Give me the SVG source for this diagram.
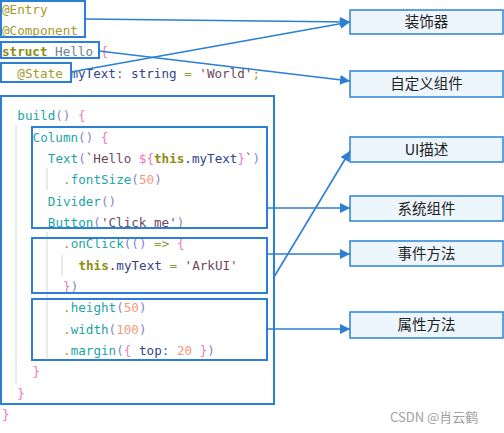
<svg xmlns="http://www.w3.org/2000/svg" width="504" height="433" viewBox="0 0 504 433">
<style>
.code{font-family:"DejaVu Sans Mono","Liberation Mono",monospace;font-size:12.6px;white-space:pre}
.d{fill:#a79a2d}.k{fill:#8f8c12;font-weight:bold}.h{fill:#6a8593}.b{fill:#e879c4}.v{fill:#34438a}
.s{fill:#6e4760}.f{fill:#1ea3a6}.p{fill:#8a84c8}.n{fill:#f39a7c}.o{fill:#8c9a3c}.c{fill:#5a6080}
.box{fill:none;stroke:#2b7fd4;stroke-width:2}
.guide{stroke:#e2e2e2;stroke-width:1.5}
.lbl rect{fill:#eef6fd;stroke:#2a83d5;stroke-width:1.5}
.lbl text{font-family:"Noto Sans CJK SC","Noto Sans",sans-serif;font-size:14.5px;fill:#222;text-anchor:middle}
.con{stroke:#2b7fd4;stroke-width:1.6;fill:none;marker-end:url(#ah)}
</style>
<defs>
<marker id="ah" markerUnits="userSpaceOnUse" markerWidth="10" markerHeight="10" refX="10" refY="5" orient="auto">
<path d="M0,0 L10,5 L0,10 z" fill="#2b7fd4"/>
</marker>
</defs>
<rect width="504" height="433" fill="#fff"/>
<g id="guides">
<line class="guide" x1="16" y1="125" x2="16" y2="383"/>
<line class="guide" x1="47" y1="168" x2="47" y2="190"/>
<line class="guide" x1="47" y1="232" x2="47" y2="358"/>
<line class="guide" x1="62" y1="255" x2="62" y2="276"/>
</g>
<g id="code" class="code">
<text x="2" y="13.5" class="d">@Entry</text>
<text x="2" y="34.8" class="d">@Component</text>
<text x="2" y="56.2"><tspan class="k">struct</tspan> <tspan class="h">Hello</tspan> <tspan class="b">{</tspan></text>
<text x="17.3" y="77.5"><tspan class="d">@State</tspan> <tspan class="v">myText</tspan><tspan class="c">:</tspan> <tspan class="v">string</tspan> <tspan class="o">=</tspan> <tspan class="s">'World'</tspan><tspan class="d">;</tspan></text>
<text x="17.3" y="120.2"><tspan class="f">build</tspan><tspan class="p">()</tspan> <tspan class="b">{</tspan></text>
<text x="32.6" y="141.5"><tspan class="f">Column</tspan><tspan class="p">()</tspan> <tspan class="b">{</tspan></text>
<text x="47.8" y="162.8"><tspan class="f">Text</tspan><tspan class="p">(</tspan><tspan class="s">`Hello </tspan><tspan class="b">${</tspan><tspan class="k">this</tspan><tspan class="v">.myText</tspan><tspan class="b">}</tspan><tspan class="s">`</tspan><tspan class="p">)</tspan></text>
<text x="63.1" y="184.2"><tspan class="d">.</tspan><tspan class="f">fontSize</tspan><tspan class="p">(</tspan><tspan class="n">50</tspan><tspan class="p">)</tspan></text>
<text x="47.8" y="205.5"><tspan class="f">Divider</tspan><tspan class="p">()</tspan></text>
<text x="47.8" y="226.8"><tspan class="f">Button</tspan><tspan class="p">(</tspan><tspan class="s">'Click me'</tspan><tspan class="p">)</tspan></text>
<text x="63.1" y="248.2"><tspan class="d">.</tspan><tspan class="f">onClick</tspan><tspan class="p">(()</tspan> <tspan class="o">=&gt;</tspan> <tspan class="b">{</tspan></text>
<text x="78.4" y="269.5"><tspan class="k">this</tspan><tspan class="v">.myText</tspan> <tspan class="o">=</tspan> <tspan class="s">'ArkUI'</tspan></text>
<text x="63.1" y="290.8"><tspan class="b">}</tspan><tspan class="p">)</tspan></text>
<text x="63.1" y="312.2"><tspan class="d">.</tspan><tspan class="f">height</tspan><tspan class="p">(</tspan><tspan class="n">50</tspan><tspan class="p">)</tspan></text>
<text x="63.1" y="333.5"><tspan class="d">.</tspan><tspan class="f">width</tspan><tspan class="p">(</tspan><tspan class="n">100</tspan><tspan class="p">)</tspan></text>
<text x="63.1" y="354.8"><tspan class="d">.</tspan><tspan class="f">margin</tspan><tspan class="p">(</tspan><tspan class="b">{</tspan> <tspan class="v">top</tspan><tspan class="c">:</tspan> <tspan class="n">20</tspan> <tspan class="b">}</tspan><tspan class="p">)</tspan></text>
<text x="32.6" y="376.2" class="b">}</text>
<text x="17.3" y="397.5" class="b">}</text>
<text x="2" y="418.8" class="b">}</text>
</g>
<g id="code-boxes">
<rect id="box-decorators" class="box" x="1" y="1" width="84" height="36"/>
<rect id="box-struct" class="box" x="1" y="42" width="98" height="16"/>
<rect id="box-state" class="box" x="1" y="63" width="70" height="19"/>
<rect id="box-build" class="box" x="1" y="96" width="273" height="308"/>
<rect id="box-column" class="box" x="32" y="127" width="235" height="101"/>
<rect id="box-onclick" class="box" x="32" y="238" width="235" height="55"/>
<rect id="box-attrs" class="box" x="32" y="299" width="235" height="61"/>
</g>
<g id="connectors">
<line class="con" x1="85" y1="19" x2="350" y2="22"/>
<line class="con" x1="71" y1="72" x2="350" y2="22"/>
<line class="con" x1="99" y1="51" x2="350" y2="81"/>
<line class="con" x1="274" y1="277" x2="350" y2="151"/>
<line class="con" x1="267" y1="208" x2="350" y2="208"/>
<line class="con" x1="267" y1="254" x2="350" y2="254"/>
<line class="con" x1="267" y1="329" x2="350" y2="329"/>
</g>
<g id="n-decorator" class="lbl"><rect x="350" y="10" width="153" height="24"/><text x="426.5" y="27">装饰器</text></g>
<g id="n-custom" class="lbl"><rect x="350" y="71" width="153" height="26"/><text x="426.5" y="89">自定义组件</text></g>
<g id="n-ui" class="lbl"><rect x="350" y="137" width="153" height="25"/><text x="426.5" y="154.5">UI描述</text></g>
<g id="n-sys" class="lbl"><rect x="350" y="196" width="153" height="25"/><text x="426.5" y="213.5">系统组件</text></g>
<g id="n-event" class="lbl"><rect x="350" y="241" width="153" height="25"/><text x="426.5" y="258.5">事件方法</text></g>
<g id="n-attr" class="lbl"><rect x="350" y="312" width="153" height="26"/><text x="426.5" y="330">属性方法</text></g>
<text x="390" y="422" font-family="Noto Sans CJK SC, Liberation Sans, sans-serif" font-size="13" fill="#a0a0a0">CSDN @肖云鹤</text>
</svg>
